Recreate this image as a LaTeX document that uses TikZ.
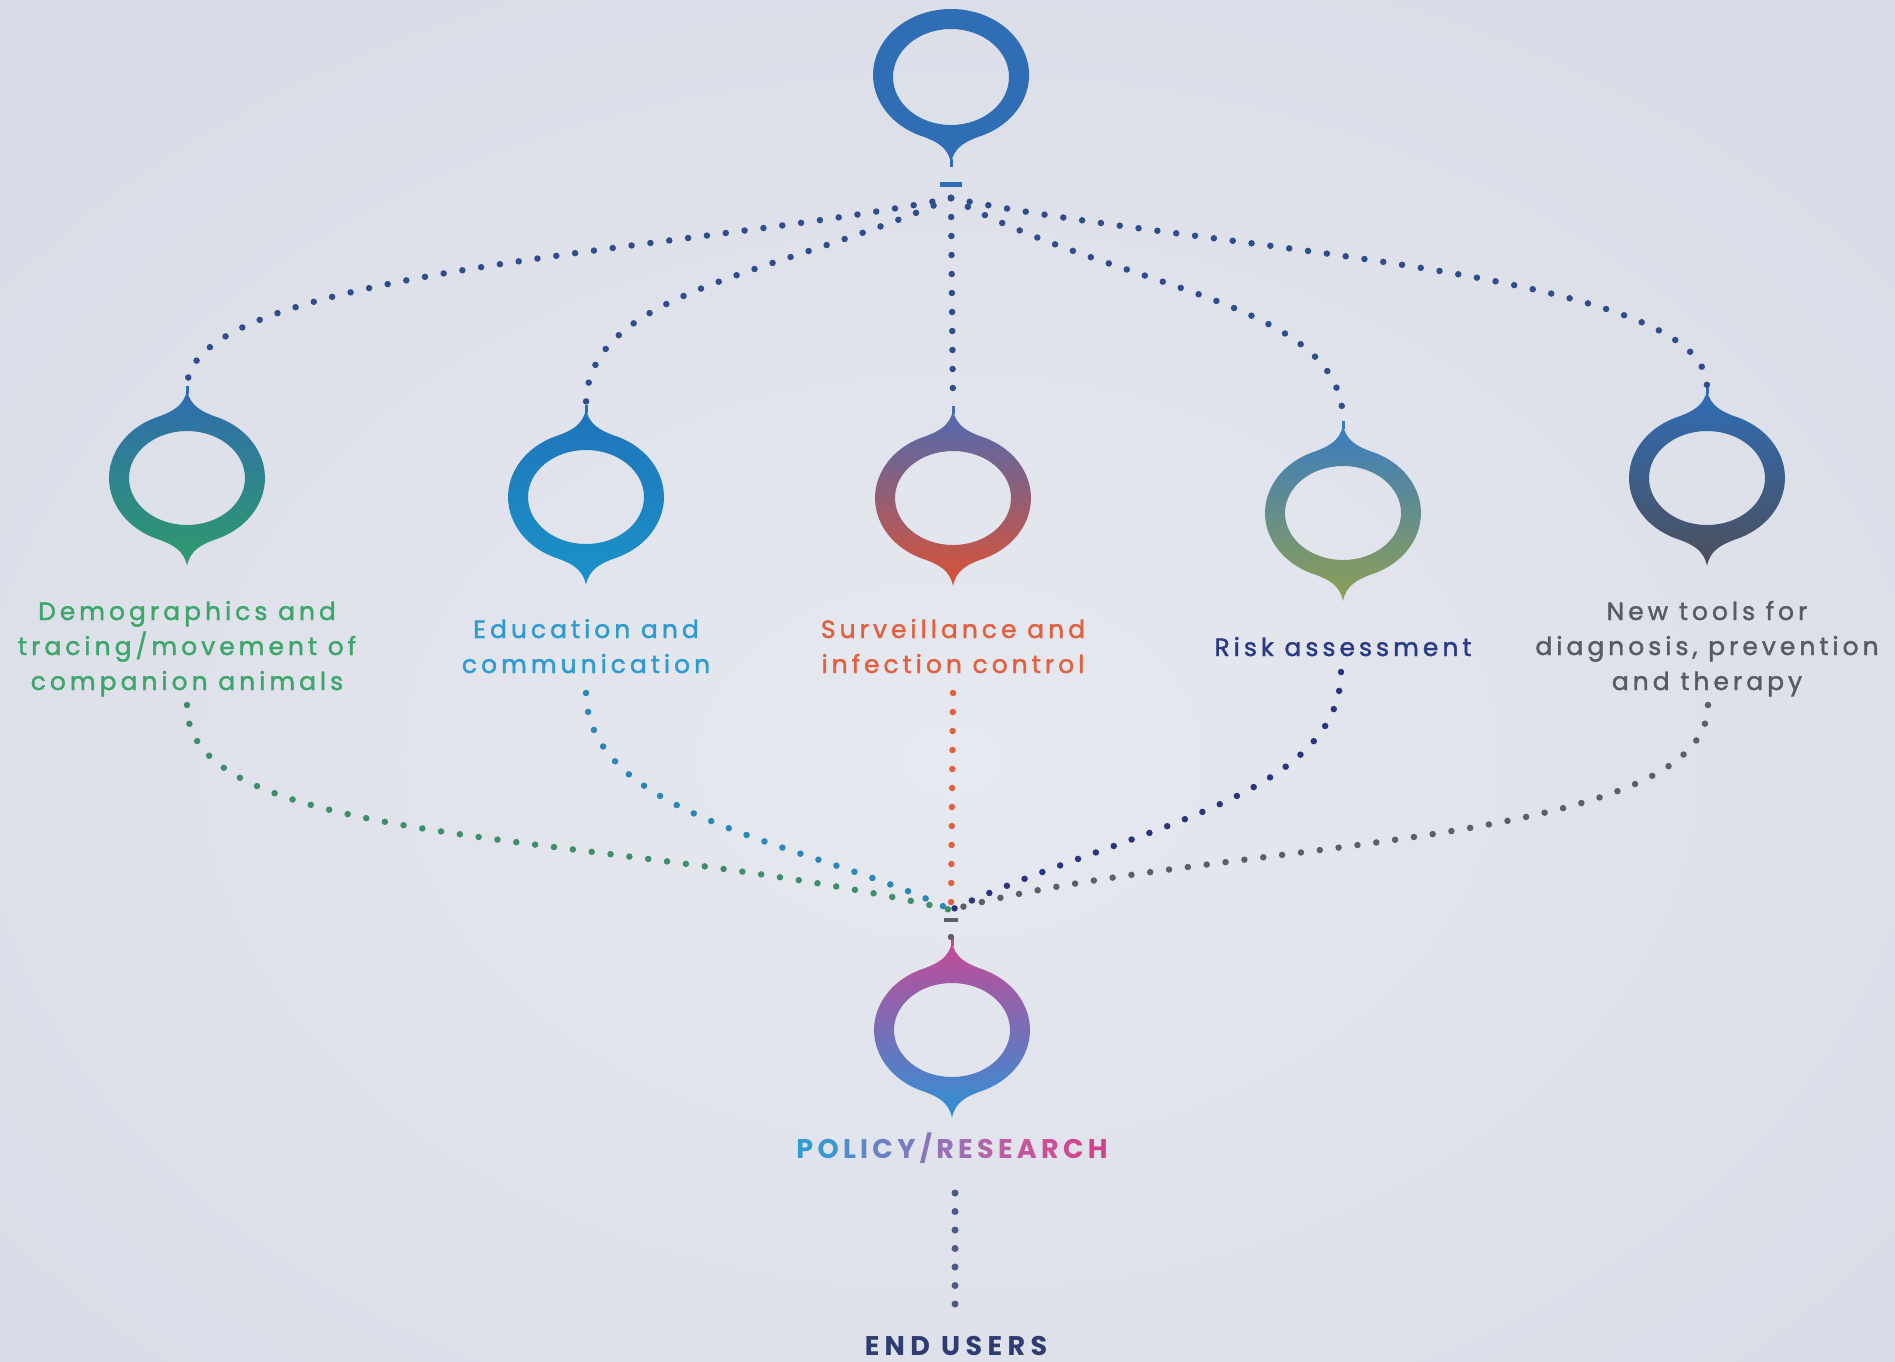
\documentclass[tikz,border=0pt]{standalone}
\usepackage{fontspec}
\setmainfont{Poppins}
\newfontfamily\labfont[LetterSpace=16,FakeBold=1.6]{Poppins}
\newfontfamily\capfont{Poppins}
\newfontfamily\eufont[LetterSpace=20]{Poppins}
\newcommand\lkk{\kern4.3pt}
\definecolor{bgin}{HTML}{E7E9F0}
\definecolor{bgout}{HTML}{CDD1DE}
\definecolor{tdot}{HTML}{2F4C8C}
\definecolor{cgreen}{HTML}{3DA66A}
\definecolor{ccyan}{HTML}{2D9BD0}
\definecolor{corange}{HTML}{E0603F}
\definecolor{cnavy}{HTML}{2B3A85}
\definecolor{cgray}{HTML}{5A5A63}
\definecolor{dgreen}{HTML}{3E8E68}
\definecolor{dcyan}{HTML}{2C86B8}
\definecolor{dorange}{HTML}{E0603F}
\definecolor{dnavy}{HTML}{2A3580}
\definecolor{dgray}{HTML}{5C5E6A}
\definecolor{ceu}{HTML}{2E3C72}
\definecolor{ctop}{HTML}{2F6DB5}
\definecolor{ra1}{HTML}{2F6CB0}\definecolor{rb1}{HTML}{2E9B6B}
\definecolor{ra2}{HTML}{2074BA}\definecolor{rb2}{HTML}{1A93C8}
\definecolor{ra3}{HTML}{4E6AB2}\definecolor{rb3}{HTML}{DB5235}
\definecolor{ra4}{HTML}{3A7CC2}\definecolor{rb4}{HTML}{8EA052}
\definecolor{ra5}{HTML}{2F6DB6}\definecolor{rb5}{HTML}{4C4F5C}
\definecolor{ra6}{HTML}{C44A98}\definecolor{rb6}{HTML}{2D92D6}
\definecolor{pa}{HTML}{2D9CD3}\definecolor{pb}{HTML}{3A97D0}\definecolor{pc}{HTML}{4B8FCC}
\definecolor{pd}{HTML}{5B88C8}\definecolor{pe}{HTML}{6A82C4}\definecolor{pf}{HTML}{787CC0}
\definecolor{pg}{HTML}{8777BC}\definecolor{ph}{HTML}{9572B6}\definecolor{pi}{HTML}{A26CB0}
\definecolor{pj}{HTML}{AF65AA}\definecolor{pk}{HTML}{BC5DA3}\definecolor{pl}{HTML}{C6559D}
\definecolor{pm}{HTML}{CC4E97}\definecolor{pn}{HTML}{D04792}\definecolor{po}{HTML}{D2418E}
\tikzset{
  pics/ring/.style 2 args={code={
    \shade[top color=#1, bottom color=#2, even odd rule]
      (27,-61.9) arc[start angle=-69.7, end angle=69.7, x radius=78, y radius=66]
      .. controls (15,66.5) and (3,72) .. (0,88)
      .. controls (-3,72) and (-15,66.5) .. (-27,61.9)
      arc[start angle=110.3, end angle=249.7, x radius=78, y radius=66]
      .. controls (-15,-66.5) and (-3,-72) .. (0,-88)
      .. controls (3,-72) and (15,-66.5) .. (27,-61.9) -- cycle
      (0,0) ellipse[x radius=58, y radius=47];
    \draw[#1, line width=3pt] (0,-84) -- (0,-92);
    \coordinate (-t) at (0,-92);
    \coordinate (-b) at (0,88);
  }},
  pics/topring/.style={code={
    \fill[#1, even odd rule]
      (-27,61.9) arc[start angle=110.3, end angle=429.7, x radius=78, y radius=66]
      .. controls (15,66.5) and (3,72) .. (0,88)
      .. controls (-3,72) and (-15,66.5) .. (-27,61.9) -- cycle
      (0,2) ellipse[x radius=58, y radius=48];
    \draw[#1, line width=3pt] (0,84) -- (0,92);
    \coordinate (-b) at (0,92);
  }},
  dotline/.style={line width=6.5pt, line cap=round, dash pattern=on 0pt off 19pt},
  lab/.style={font=\labfont\fontsize{25}{35}\selectfont, align=center, inner sep=0pt, anchor=base},
  caps/.style={font=\capfont\bfseries\fontsize{27}{30}\selectfont, inner sep=0pt, anchor=base},
  eucaps/.style={font=\eufont\bfseries\fontsize{27}{30}\selectfont, inner sep=0pt, anchor=base},
}
\begin{document}
\begin{tikzpicture}[x=1pt, y=-1pt]
\useasboundingbox (0,0) rectangle (1895,1361);
\begin{scope}
\clip (0,0) rectangle (1895,1361);
\fill[bgout] (0,0) rectangle (1895,1361);
\shade[inner color=bgin, outer color=bgout] (950,760) ellipse[x radius=2400, y radius=1700];
\end{scope}

% rings
\pic (top) at (951,75) {topring=ctop};
\pic (r1) at (187,478) {ring={ra1}{rb1}};
\pic (r2) at (586,497) {ring={ra2}{rb2}};
\pic (r3) at (953,498) {ring={ra3}{rb3}};
\pic (r4) at (1343,513) {ring={ra4}{rb4}};
\pic (r5) at (1707,478) {ring={ra5}{rb5}};
\pic (pr) at (952,1030) {ring={ra6}{rb6}};

% hubs
\coordinate (hubT) at (951,198);
\coordinate (hubB) at (951,910);
\fill[ctop] (940,182) rectangle (962,187);
\fill[dgray] (944,918) rectangle (958,922);
\fill[dgray] (951,937) circle[radius=3.2];

% labels (anchor = baseline of last line)
\node[lab, text=cgreen] (l1) at (187,690) {Demographics and\\tracing/movement of\\companion animals};
\node[lab, text=ccyan] (l2) at (586,673) {Education and\\communication};
\node[lab, text=corange] (l3) at (953,673) {Surveillance and\\infection control};
\node[lab, text=cnavy] (l4) at (1343,656) {Risk assessment};
\node[lab, text=cgray] (l5) at (1707,690) {New tools for\\diagnosis, prevention\\and therapy};
\node[caps] (prl) at (952,1158)
  {\textcolor{pa}{P}\lkk\textcolor{pb}{O}\lkk\textcolor{pc}{L}\lkk\textcolor{pd}{I}\lkk\textcolor{pe}{C}\lkk\textcolor{pf}{Y}\lkk\textcolor{pg}{/}\lkk\textcolor{ph}{R}\lkk\textcolor{pi}{E}\lkk\textcolor{pj}{S}\lkk\textcolor{pk}{E}\lkk\textcolor{pl}{A}\lkk\textcolor{pm}{R}\lkk\textcolor{pn}{C}\lkk\textcolor{po}{H}};
\node[eucaps, text=ceu] (eul) at (956,1355) {END USERS};

% top connectors
\draw[dotline, tdot] (hubT) .. controls (700,250) and (190,270) .. (r1-t);
\draw[dotline, tdot] (hubT) .. controls (780,275) and (586,290) .. (r2-t);
\draw[dotline, tdot] (hubT) -- (r3-t);
\draw[dotline, tdot] (hubT) .. controls (1120,290) and (1343,300) .. (r4-t);
\draw[dotline, tdot] (hubT) .. controls (1200,250) and (1706,270) .. (r5-t);

% bottom connectors
\coordinate (s1) at (187,705);
\coordinate (s2) at (586,693);
\coordinate (s3) at (953,693);
\coordinate (s4) at (1341,672);
\coordinate (s5) at (1708,705);
\draw[dotline, dgreen] (s1) .. controls (185,850) and (620,830) .. (hubB);
\draw[dotline, dcyan] (s2) .. controls (588,820) and (820,845) .. (hubB);
\draw[dotline, dorange] (s3) -- (hubB);
\draw[dotline, dnavy] (s4) .. controls (1340,800) and (1120,830) .. (hubB);
\draw[dotline, dgray] (s5) .. controls (1708,850) and (1200,840) .. (hubB);

% to end users
\coordinate (eu1) at (955,1193);
\coordinate (eu2) at (955,1304);
\draw[line width=7pt, line cap=round, dash pattern=on 0pt off 18.5pt, ceu!85] (eu1) -- (eu2);
\end{tikzpicture}
\end{document}
